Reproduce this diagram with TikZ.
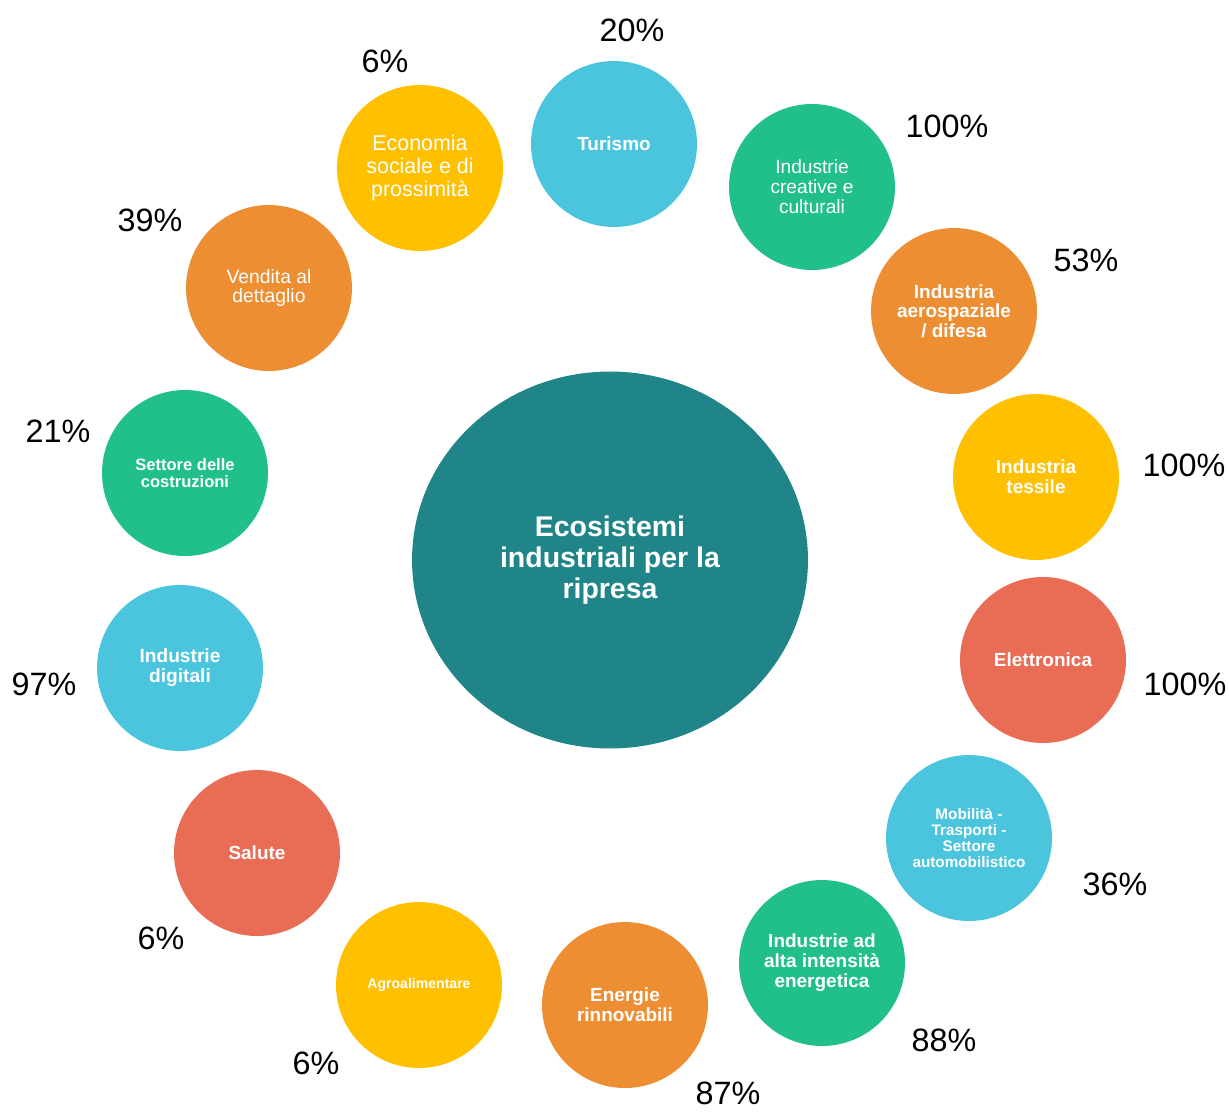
\documentclass[tikz,border=0pt]{standalone}
\usepackage{fontspec}
\setmainfont{Liberation Sans}
\usepackage{xcolor}
\usetikzlibrary{positioning, shapes.geometric}

\definecolor{ecoteal}{HTML}{1F8589}
\definecolor{ecocyan}{HTML}{4BC5DE}
\definecolor{ecogreen}{HTML}{21C088}
\definecolor{ecoorange}{HTML}{EE8E33}
\definecolor{ecoyellow}{HTML}{FFC000}
\definecolor{ecored}{HTML}{E96C55}

\newcommand{\bsize}[2]{\fontsize{#1}{#2}\selectfont\bfseries}
\newcommand{\rsize}[2]{\fontsize{#1}{#2}\selectfont}

\begin{document}
\begin{tikzpicture}[
    x=0.02cm, y=-0.02cm,
    bub/.style={circle, minimum size=3.32cm, inner sep=0pt, align=center, text=white},
    pct/.style={inner sep=0pt, font=\rsize{18.4}{22}}
]
\useasboundingbox (0,0) rectangle (1229,1112);
% centro
\node[ellipse, fill=ecoteal, minimum width=7.92cm, minimum height=7.54cm, inner sep=0pt,
      align=center, text=white, font=\bsize{16.2}{17.6}] (centro) at (610,560)
      {Ecosistemi\\industriali per la\\ripresa};
% ecosistemi
\node[bub, fill=ecocyan, font=\bsize{10.8}{12}] (turismo) at (614,144) {Turismo};
\node[bub, fill=ecogreen, font=\rsize{10.9}{11.4}] (creative) at (812,187) {Industrie\\creative e\\culturali};
\node[bub, fill=ecoorange, font=\bsize{10.8}{11.2}] (aerospazio) at (954,311) {Industria\\aerospaziale\\/ difesa};
\node[bub, fill=ecoyellow, font=\bsize{10.8}{11.4}] (tessile) at (1036,477) {Industria\\tessile};
\node[bub, fill=ecored, font=\bsize{10.8}{12}] (elettronica) at (1043,660) {Elettronica};
\node[bub, fill=ecocyan, font=\bsize{8.7}{9}] (mobilita) at (969,838) {Mobilità -\\Trasporti -\\Settore\\automobilistico};
\node[bub, fill=ecogreen, font=\bsize{10.8}{11.4}] (energetica) at (822,963) {Industrie ad\\alta intensità\\energetica};
\node[bub, fill=ecoorange, font=\bsize{10.8}{11.4}] (rinnovabili) at (625,1005) {Energie\\rinnovabili};
\node[bub, fill=ecoyellow, font=\bsize{8}{9}] (agro) at (419,985) {Agroalimentare};
\node[bub, fill=ecored, font=\bsize{10.8}{12}] (salute) at (257,853) {Salute};
\node[bub, fill=ecocyan, font=\bsize{10.9}{11.4}] (digitali) at (180,668) {Industrie\\digitali};
\node[bub, fill=ecogreen, font=\bsize{9.4}{9.8}] (costruzioni) at (185,473) {Settore delle\\costruzioni};
\node[bub, fill=ecoorange, font=\rsize{11}{11.2}] (vendita) at (269,288) {Vendita al\\dettaglio};
\node[bub, fill=ecoyellow, font=\rsize{12.2}{13}] (sociale) at (420,168) {Economia\\sociale e di\\prossimità};
% percentuali
\node[pct] (p-turismo) at (632,30) {20\%};
\node[pct] (p-creative) at (947,126) {100\%};
\node[pct] (p-aerospazio) at (1086,260) {53\%};
\node[pct] (p-tessile) at (1184,465) {100\%};
\node[pct] (p-elettronica) at (1185,684) {100\%};
\node[pct] (p-mobilita) at (1115,884) {36\%};
\node[pct] (p-energetica) at (944,1040) {88\%};
\node[pct] (p-rinnovabili) at (728,1093) {87\%};
\node[pct] (p-agro) at (316,1063) {6\%};
\node[pct] (p-salute) at (161,938) {6\%};
\node[pct] (p-digitali) at (44,684) {97\%};
\node[pct] (p-costruzioni) at (58,431) {21\%};
\node[pct] (p-vendita) at (150,220) {39\%};
\node[pct] (p-sociale) at (385,61) {6\%};
\end{tikzpicture}
\end{document}
